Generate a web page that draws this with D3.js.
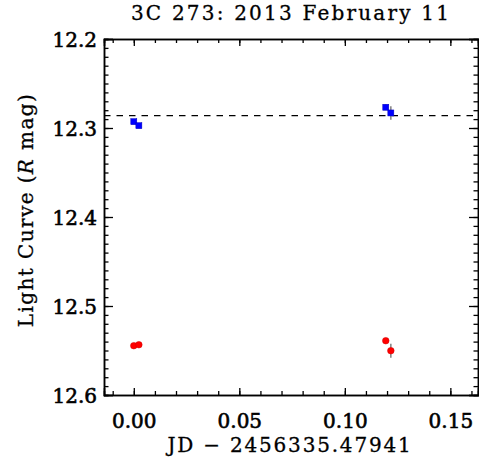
<!DOCTYPE html>
<html>
<head>
<meta charset="utf-8">
<script src="https://cdn.jsdelivr.net/npm/d3@7"></script>
<style>
  body { margin: 0; background: #fff; }
  svg { display: block; }
  text { font-family: "DejaVu Serif", serif; fill: #000; }
</style>
</head>
<body>
<svg></svg>
<script>
// data
var jd = [0.0000, 0.0024, 0.1194, 0.1218],
    blueMag = [12.2929, 12.2974, 12.2767, 12.2831],
    blueErr = [0.001, 0.001, 0.003, 0.0075],
    redMag = [12.5446, 12.5435, 12.5390, 12.5502],
    redErr = [0.001, 0.001, 0.002, 0.0079],
    refMag = 12.2862;
var xTicks = [0.00, 0.05, 0.10, 0.15],
    yTicks = [12.2, 12.3, 12.4, 12.5, 12.6];

var W = 479, H = 459,
    root = d3.select('svg').attr('width', W).attr('height', H);

var sx = d3.scaleLinear().domain([-0.01412, 0.1631]).range([104, 478]),
    sy = d3.scaleLinear().domain([12.2, 12.6]).range([39, 395]);

var xMinor = d3.range(-0.01, 0.165, 0.01),
    yMinor = d3.range(12.2, 12.6001, 0.01);

function drawAxis(ax, tr, major, minor, bigLen, smallLen, labels, fmt) {
  var g = root.append('g').attr('transform', tr);
  g.call(ax.tickValues(minor).tickSize(smallLen).tickFormat(''));
  var g2 = root.append('g').attr('transform', tr);
  g2.call(ax.tickValues(major).tickSize(bigLen).tickFormat(labels ? fmt : ''));
  [g, g2].forEach(function(s) {
    s.selectAll('.domain').attr('stroke', '#000').attr('stroke-width', 1.5);
    s.selectAll('.tick line').attr('stroke', '#000').attr('stroke-width', 1.3);
  });
  return g2;
}

// bottom / top
var bx = drawAxis(d3.axisBottom(sx).tickSizeOuter(0), 'translate(0,395)', xTicks, xMinor, -7, -4, true, d3.format('.2f'));
bx.selectAll('.tick text').attr('y', 19).attr('dy', '0.71em')
  .style('font-size', '20px').attr('stroke', '#000').attr('stroke-width', 0.6);
drawAxis(d3.axisTop(sx).tickSizeOuter(0), 'translate(0,39)', xTicks, xMinor, -7, -4, false);

// left / right
var ly = drawAxis(d3.axisLeft(sy).tickSizeOuter(0), 'translate(104,0)', yTicks, yMinor, -9, -4.5, true, d3.format('.1f'));
ly.selectAll('.tick text').attr('x', -7).attr('dy', '0.36em')
  .style('font-size', '20px').attr('stroke', '#000').attr('stroke-width', 0.6);
drawAxis(d3.axisRight(sy).tickSizeOuter(0), 'translate(478,0)', yTicks, yMinor, -9, -4.5, false);

// reference level
root.append('line')
  .attr('x1', sx.range()[0]).attr('x2', sx.range()[1])
  .attr('y1', sy(refMag)).attr('y2', sy(refMag))
  .attr('stroke', '#000').attr('stroke-width', 1.3)
  .attr('stroke-dasharray', '6.5,6');

function errBars(mag, err) {
  root.append('g').selectAll('line').data(jd).enter().append('line')
    .attr('x1', function(d) { return sx(d); })
    .attr('x2', function(d) { return sx(d); })
    .attr('y1', function(d, i) { return sy(mag[i] - err[i]); })
    .attr('y2', function(d, i) { return sy(mag[i] + err[i]); })
    .attr('stroke', '#808080').attr('stroke-width', 1.5);
}
errBars(blueMag, blueErr);
errBars(redMag, redErr);

root.append('g').selectAll('rect').data(jd).enter().append('rect')
  .attr('x', function(d) { return sx(d) - 3; })
  .attr('y', function(d, i) { return sy(blueMag[i]) - 3; })
  .attr('width', 6).attr('height', 6)
  .attr('fill', '#0000ff').attr('stroke', '#0000c0').attr('stroke-width', 0.5);

root.append('g').selectAll('circle').data(jd).enter().append('circle')
  .attr('cx', function(d) { return sx(d); })
  .attr('cy', function(d, i) { return sy(redMag[i]); })
  .attr('r', 3.3)
  .attr('fill', '#ff0000').attr('stroke', '#d00000').attr('stroke-width', 0.5);

// titles
root.append('text')
  .attr('x', 291).attr('y', 20)
  .attr('text-anchor', 'middle')
  .style('font-size', '20px').style('letter-spacing', '2.2px')
  .attr('stroke', '#000').attr('stroke-width', 0.3)
  .text('3C 273: 2013 February 11');

root.append('text')
  .attr('x', 290).attr('y', 452)
  .attr('text-anchor', 'middle')
  .style('font-size', '20px').style('letter-spacing', '1.8px')
  .attr('stroke', '#000').attr('stroke-width', 0.3)
  .text('JD \u2212 2456335.47941');

var yt = root.append('text')
  .attr('transform', 'translate(33,210) rotate(-90)')
  .attr('text-anchor', 'middle')
  .style('font-size', '20px').style('letter-spacing', '1.4px')
  .attr('stroke', '#000').attr('stroke-width', 0.3);
yt.append('tspan').text('Light Curve (');
yt.append('tspan').style('font-style', 'italic').text('R');
yt.append('tspan').text(' mag)');
</script>
</body>
</html>
